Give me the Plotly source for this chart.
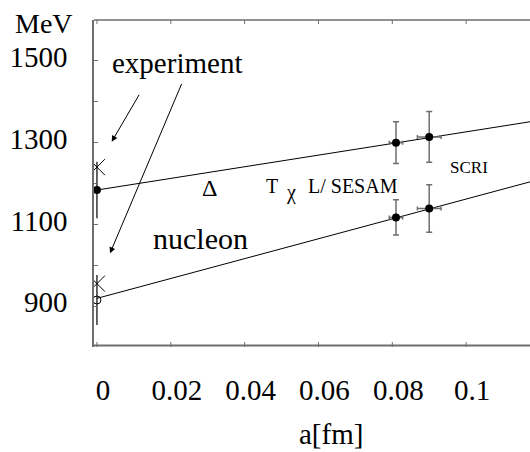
import plotly.graph_objects as go

# ---------------- data ----------------
# experimental masses (MeV) at a = 0
exp_a = [0.0, 0.0]
exp_mass = [1240, 955]

# continuum-extrapolated values (a = 0)
delta_cont_a = [0.0]
delta_cont_m = [1184]
delta_cont_err = [69]
nucleon_cont_a = [0.0]
nucleon_cont_m = [915]
nucleon_cont_err = [61]

# lattice results (TchiL / SESAM, SCRI)
lat_a = [0.081, 0.090]
lat_a_err = [0.0018, 0.0032]
delta_m = [1300, 1314]
delta_err = [51, 62]
nucleon_m = [1117, 1139]
nucleon_err = [43, 58]

# linear fits (endpoints)
fit_a = [0.0, 0.1173]
delta_fit = [1184, 1351]
nucleon_fit = [919, 1204]

# axis ticks
x_ticks = [0, 0.02, 0.04, 0.06, 0.08, 0.1]
x_ticktext = ["0", "0.02", "0.04", "0.06", "0.08", "0.1"]
y_ticks = [800, 900, 1000, 1100, 1200, 1300, 1400, 1500, 1600]
y_ticktext = ["", "900", "", "1100", "", "1300", "", "1500", ""]

FONT = '"Liberation Serif", "Times New Roman", serif'
AXC = "#6e6e6e"

# ---------------- layout geometry ----------------
W, H = 530, 452
ML, MT, MR, MB = 94, 20, 0, 105
PW, PH = W - ML - MR, H - MT - MB


def px(x):
    return (x - ML) / PW


def py(y):
    return (H - MB - y) / PH


fig = go.Figure()

# fit lines
fig.add_trace(go.Scatter(x=fit_a, y=delta_fit, mode="lines",
                         line=dict(color="black", width=1), hoverinfo="skip"))
fig.add_trace(go.Scatter(x=fit_a, y=nucleon_fit, mode="lines",
                         line=dict(color="black", width=1), hoverinfo="skip"))

# continuum points
fig.add_trace(go.Scatter(x=delta_cont_a, y=delta_cont_m, mode="markers",
                         marker=dict(symbol="circle", size=8, color="black"),
                         error_y=dict(type="data", array=delta_cont_err, color="black",
                                      thickness=1.2, width=0)))
fig.add_trace(go.Scatter(x=nucleon_cont_a, y=nucleon_cont_m, mode="markers",
                         marker=dict(symbol="circle-open", size=8, color="black",
                                     line=dict(width=1, color="black")),
                         error_y=dict(type="data", array=nucleon_cont_err, color="black",
                                      thickness=1.2, width=0)))

# lattice points
for m, e in [(delta_m, delta_err), (nucleon_m, nucleon_err)]:
    fig.add_trace(go.Scatter(x=lat_a, y=m, mode="markers",
                             marker=dict(symbol="circle", size=8, color="black"),
                             error_y=dict(type="data", array=e, color=AXC,
                                          thickness=1.5, width=3),
                             error_x=dict(type="data", array=lat_a_err, color=AXC,
                                          thickness=1.5, width=2)))

# experiment
fig.add_trace(go.Scatter(x=exp_a, y=exp_mass, mode="markers",
                         marker=dict(symbol="x-thin-open", size=16, color="black",
                                     line=dict(width=1, color="black"))))

anns = []


def txt(t, x, y, size, xanchor="center"):
    anns.append(dict(text=t, x=px(x), y=py(y), xref="paper", yref="paper",
                     showarrow=False, xanchor=xanchor, yanchor="middle",
                     font=dict(family=FONT, size=size, color="black")))


txt("experiment", 177, 63, 29)
txt("nucleon", 200.5, 238, 30)
txt("Δ", 209, 188, 24)
txt("T", 271.5, 186, 20)
txt("χ", 290.5, 192, 20)
txt("L/ SESAM", 352.5, 186, 20)
txt("SCRI", 469, 167, 17)
txt("MeV", 43.5, 24, 28)
txt("a[fm]", 331, 434, 29)


def arrow(x0, y0, x1, y1):
    anns.append(dict(text="", x=px(x1), y=py(y1), xref="paper", yref="paper",
                     ax=x0 - x1, ay=y0 - y1, axref="pixel", ayref="pixel",
                     showarrow=True, arrowhead=2, arrowsize=1.2, arrowwidth=1,
                     arrowcolor="black", standoff=0))


arrow(140, 93.3, 111.7, 141.7)
arrow(182.3, 82.3, 110, 253.3)

# frame lines (bottom / top) and x ticks as styling shapes
shapes = [
    dict(type="line", xref="paper", yref="paper", x0=0, x1=1,
         y0=1.5 / PH, y1=1.5 / PH, line=dict(color=AXC, width=2), layer="above"),
    dict(type="line", xref="paper", yref="paper", x0=0, x1=1, y0=1, y1=1,
         line=dict(color=AXC, width=1.5), layer="above"),
]
for t in x_ticks:
    shapes.append(dict(type="line", xref="x", yref="paper", x0=t, x1=t,
                       y0=0, y1=5 / PH, line=dict(color=AXC, width=1), layer="above"))
    shapes.append(dict(type="line", xref="x", yref="paper", x0=t, x1=t,
                       y0=1, y1=1 - 4 / PH, line=dict(color=AXC, width=1), layer="above"))

fig.update_layout(
    width=W, height=H,
    margin=dict(l=ML, r=MR, t=MT, b=MB, pad=0, autoexpand=False),
    paper_bgcolor="white", plot_bgcolor="white",
    showlegend=False,
    annotations=anns,
    shapes=shapes,
    font=dict(family=FONT, size=29, color="black"),
)

fig.update_xaxes(range=[-0.0008, 0.1173], tickvals=x_ticks, ticktext=x_ticktext,
                 ticks="", showline=False,
                 showgrid=False, zeroline=False, automargin=False,
                 tickfont=dict(family=FONT, size=29, color="black"),
                 ticklabelstandoff=23, ticklabelshift=6)
fig.update_yaxes(range=[800, 1600], tickvals=y_ticks, ticktext=y_ticktext,
                 ticks="inside", ticklen=4, tickcolor=AXC, tickwidth=1,
                 showline=True, linecolor=AXC, linewidth=1.5, mirror=False,
                 showgrid=False, zeroline=False, automargin=False,
                 tickfont=dict(family=FONT, size=29, color="black"),
                 ticklabelstandoff=19, ticklabelshift=-4)

fig.write_html("out.html", config={"displayModeBar": False},
               post_script="document.body.style.margin='0';"
                           "document.body.style.overflow='hidden';")
